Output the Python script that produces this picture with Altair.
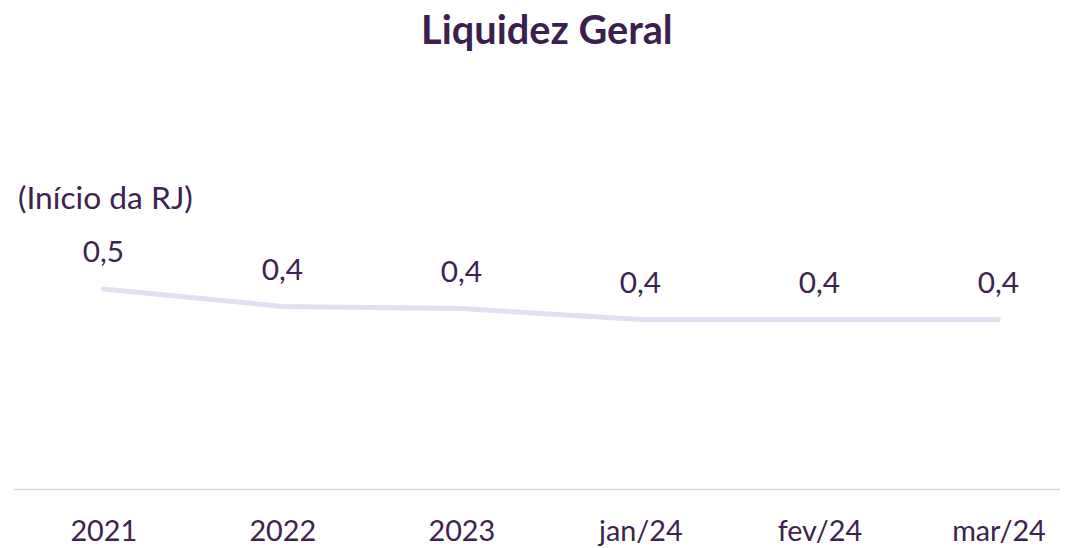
import altair as alt
import pandas as pd

periods = ["2021", "2022", "2023", "jan/24", "fev/24", "mar/24"]
values = [0.46, 0.42, 0.415, 0.39, 0.39, 0.39]
note_period = ["2021"]
note_value = [0.46]
note_text = ["(Início da RJ)"]

df = pd.DataFrame({"periodo": periods, "valor": values})
notes = pd.DataFrame({"periodo": note_period, "valor": note_value, "texto": note_text})

FONT = "Lato"
TXT = "#3c2350"
W, H = 1054, 439

x = alt.X("periodo:N", sort=periods, title=None,
          scale=alt.Scale(type="point", range=[90, 992], padding=0),
          axis=alt.Axis(labelAngle=0, ticks=False, grid=False, domain=False,
                        labelFont=FONT, labelFontSize=29, labelColor=TXT,
                        labelBaseline="middle", labelPadding=43))
y = alt.Y("valor:Q", scale=alt.Scale(domain=[0, 1]), axis=None)

baseline = alt.Chart(pd.DataFrame({"a": [0]})).mark_rule(
    color="#d9d9d9", strokeWidth=1.5).encode(
    x=alt.value(0), x2=alt.value(W), y=alt.value(H))

line = alt.Chart(df).mark_line(color="#e6def0", strokeWidth=5, strokeCap="round").encode(x=x, y=y)

labels = alt.Chart(df).transform_calculate(
    lbl="replace(format(datum.valor, '.1f'), '.', ',')"
).mark_text(font=FONT, fontSize=30, color=TXT, dy=-36, baseline="middle").encode(
    x=x, y=y, text="lbl:N")

note = alt.Chart(notes).mark_text(font=FONT, fontSize=32, color=TXT, align="left",
                                  baseline="middle", dx=-86, dy=-91).encode(
    x=x, y=y, text="texto:N")

chart = alt.layer(baseline, line, labels, note).properties(
    width=W, height=H,
    background="white",
    autosize=alt.AutoSizeParams(type="none"),
    padding={"left": 6, "top": 44, "right": 0, "bottom": 57},
    title=alt.Title("Liquidez Geral", font=FONT, fontSize=40, fontWeight="bold",
                    color="#3b1f4f", anchor="middle", baseline="middle",
                    offset=24, dx=10, dy=42),
).configure_view(stroke="transparent", strokeWidth=0)

chart.save("out.html", embed_options={"renderer": "svg", "actions": False})
